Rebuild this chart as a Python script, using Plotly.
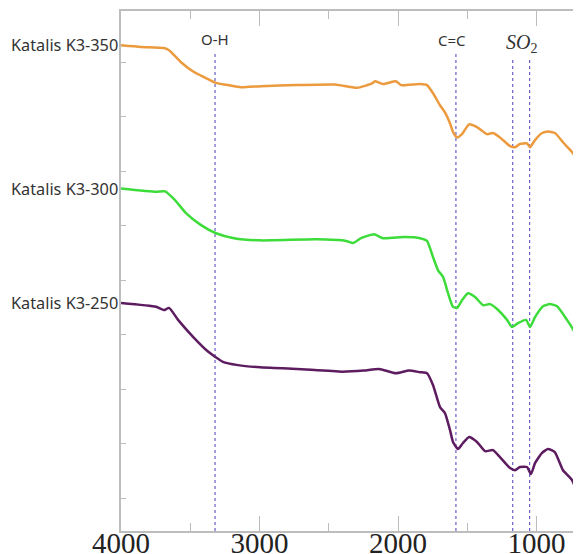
import plotly.graph_objects as go

# ---- data (wavenumber cm^-1, transmittance a.u., offset) ----
wn_350 = [4000, 3856, 3690, 3653, 3567, 3473, 3372, 3314, 3227, 3134, 2989, 2729, 2455, 2296, 2188, 2166,
          2108, 2015, 1978, 1841, 1791, 1747, 1697, 1661, 1625, 1603, 1574, 1538, 1487, 1430, 1357, 1314,
          1264, 1191, 1155, 1119, 1069, 1047, 1011, 960, 917, 867, 809, 737, 686, 650]
t_350 = [88.1, 87.8, 87.6, 87.2, 85.0, 83.2, 81.9, 81.2, 80.8, 80.4, 80.6, 80.8, 80.9, 80.3, 81.1, 81.5,
         81.0, 81.5, 80.8, 81.0, 80.8, 79.3, 77.1, 75.8, 73.8, 72.2, 71.2, 71.8, 73.6, 73.1, 71.8, 72.0,
         71.2, 69.6, 69.4, 70.0, 70.1, 69.4, 70.7, 72.0, 72.3, 72.0, 70.3, 68.3, 66.1, 64.8]

wn_300 = [4000, 3747, 3682, 3610, 3531, 3422, 3314, 3184, 2996, 2592, 2376, 2325, 2267, 2173, 2108, 1950,
          1841, 1791, 1747, 1711, 1675, 1639, 1603, 1574, 1538, 1495, 1444, 1386, 1336, 1285, 1213, 1177,
          1134, 1076, 1047, 1011, 953, 903, 852, 780, 722, 679, 650]
t_300 = [61.8, 61.2, 61.3, 59.7, 57.3, 55.1, 53.6, 52.7, 52.3, 52.5, 52.2, 51.8, 52.7, 53.4, 52.7, 52.9,
         52.7, 52.2, 49.2, 46.8, 45.6, 42.6, 40.1, 39.9, 41.3, 42.6, 41.9, 40.4, 40.6, 39.7, 37.7, 36.4,
         37.1, 37.7, 36.4, 38.2, 40.2, 40.6, 40.2, 37.7, 35.3, 32.5, 31.1]

wn_250 = [4000, 3747, 3690, 3653, 3588, 3480, 3372, 3264, 3155, 2996, 2729, 2404, 2246, 2137, 2015, 1921,
          1841, 1791, 1747, 1697, 1661, 1625, 1603, 1567, 1531, 1487, 1430, 1372, 1314, 1264, 1191, 1155,
          1119, 1069, 1040, 1011, 960, 917, 867, 809, 744, 679, 650]
t_250 = [40.8, 40.1, 39.5, 39.9, 37.7, 34.6, 31.9, 30.0, 29.4, 29.0, 28.7, 28.2, 28.4, 28.7, 27.9, 28.4,
         28.1, 27.9, 25.7, 21.7, 20.6, 17.5, 15.3, 14.0, 15.1, 16.2, 15.3, 13.6, 13.8, 12.5, 10.5, 10.1,
         10.7, 10.7, 9.4, 11.4, 13.3, 14.0, 13.4, 10.1, 8.3, 4.1, 2.4]

series_names = ["Katalis K3-350", "Katalis K3-300", "Katalis K3-250"]
series_colors = ["#eb9a3e", "#3ddc3a", "#5e1c60"]

band_wn = [3321, 1582, 1172, 1050]
band_top = [86.5, 86.8, 85.9, 85.9]
band_labels = ["O-H", "C=C", "<i>SO</i><sub>2</sub>"]
band_label_x = [3321, 1610, 1110]
band_label_y = [89.3, 89.1, 88.4]

x_ticks = [4000, 3000, 2000, 1000]
x_range = [4000, 679]
y_range = [-1.05, 94.4]

fig = go.Figure()

# vertical band markers
for wn, top in zip(band_wn, band_top):
    fig.add_trace(go.Scatter(x=[wn, wn], y=[y_range[0], top], mode="lines",
                             line=dict(color="#6a5fc8", width=1.2, dash="dot"),
                             hoverinfo="skip", showlegend=False))

for xs, ys, name, col in zip([wn_350, wn_300, wn_250], [t_350, t_300, t_250], series_names, series_colors):
    fig.add_trace(go.Scatter(x=xs, y=ys, mode="lines", name=name,
                             line=dict(color=col, width=2.5, shape="spline", smoothing=0.5),
                             showlegend=False))
    fig.add_annotation(x=4000, y=ys[0], xref="x", yref="y", text=name, showarrow=False,
                       xanchor="right", yanchor="middle", xshift=-1,
                       font=dict(family="Noto Sans", size=16.3, color="#333333"))

for i, (txt, lx, ly) in enumerate(zip(band_labels, band_label_x, band_label_y)):
    if i < 2:
        f = dict(family="Noto Sans", size=15, color="#333333")
    else:
        f = dict(family="Liberation Serif", size=20, color="#333333")
    fig.add_annotation(x=lx, y=ly, xref="x", yref="y", text=txt, showarrow=False,
                       xanchor="center", yanchor="middle", font=f)

# page body has an 8px default margin: size the figure to fill the window from there
fig.update_layout(
    width=573, height=546,
    margin=dict(l=113, r=0, t=3, b=23, autoexpand=False),
    paper_bgcolor="white", plot_bgcolor="white",
    showlegend=False,
)
fig.update_xaxes(range=x_range, tickvals=x_ticks, ticktext=[str(v) for v in x_ticks],
                 ticks="inside", ticklen=15, tickcolor="#bdbdbd", tickwidth=1.3,
                 minor=dict(ticks="inside", ticklen=8, dtick=500, tick0=0, tickcolor="#bdbdbd", tickwidth=1.3),
                 showline=True, linecolor="#bdbdbd", linewidth=1.5, mirror="ticks",
                 showgrid=False, zeroline=False, automargin=False, ticklabelstandoff=-15,
                 tickfont=dict(family="Liberation Serif", size=29, color="#222222"))
fig.update_yaxes(range=y_range, tick0=5, dtick=10, ticks="inside", ticklen=5,
                 tickcolor="#bdbdbd", showticklabels=False,
                 showline=True, linecolor="#bdbdbd", linewidth=1.5,
                 showgrid=False, zeroline=False, automargin=False)

fig.write_html("out.html")
